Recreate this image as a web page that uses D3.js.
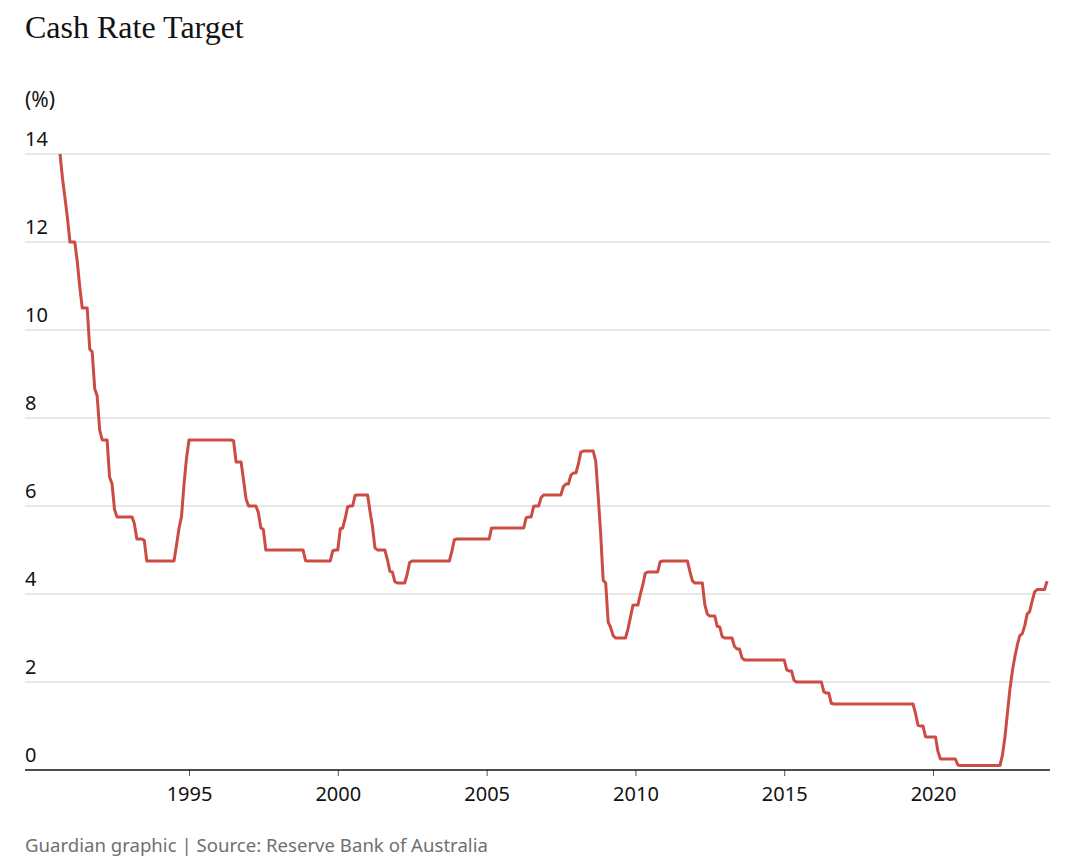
<!DOCTYPE html>
<html>
<head>
<meta charset="utf-8">
<script src="https://cdn.jsdelivr.net/npm/d3@7"></script>
<style>
  html, body { margin: 0; padding: 0; background: #ffffff; }
  svg { display: block; }
</style>
</head>
<body>
<svg id="chart" width="1080" height="865"></svg>
<script>
// ---- Data: RBA cash rate target decisions (effective dates) ----
const changeDates = [
  "1990-08-02","1990-10-15","1990-12-18","1991-04-04","1991-05-16","1991-09-03","1991-11-06",
  "1992-01-08","1992-05-06","1992-07-08","1993-03-23","1993-07-30","1994-08-17","1994-10-24",
  "1994-12-14","1996-07-31","1996-11-06","1996-12-11","1997-05-23","1997-07-30","1998-12-02",
  "1999-11-03","2000-02-02","2000-04-05","2000-05-03","2000-08-02","2001-02-07","2001-03-07",
  "2001-04-04","2001-09-05","2001-10-03","2001-12-05","2002-05-08","2002-06-05","2003-11-05",
  "2003-12-03","2005-03-02","2006-05-03","2006-08-02","2006-11-08","2007-08-08","2007-11-07",
  "2008-02-06","2008-03-05","2008-09-03","2008-10-08","2008-11-05","2008-12-03","2009-02-04",
  "2009-04-08","2009-10-07","2009-11-04","2009-12-02","2010-03-03","2010-04-07","2010-05-05",
  "2010-11-03","2011-11-02","2011-12-07","2012-05-02","2012-06-06","2012-10-03","2012-12-05",
  "2013-05-08","2013-08-07","2015-02-04","2015-05-06","2016-05-04","2016-08-03","2019-06-05",
  "2019-07-03","2019-10-02","2020-03-04","2020-03-20","2020-11-04","2022-05-04","2022-06-08",
  "2022-07-06","2022-08-03","2022-09-07","2022-10-05","2022-11-02","2022-12-07","2023-02-08",
  "2023-03-08","2023-05-03","2023-06-07","2023-11-08"
];
const cashRates = [
  14.00, 13.00, 12.00, 11.50, 10.50, 9.50, 8.50,
  7.50, 6.50, 5.75, 5.25, 4.75, 5.50, 6.50,
  7.50, 7.00, 6.50, 6.00, 5.50, 5.00, 4.75,
  5.00, 5.50, 5.75, 6.00, 6.25, 5.75, 5.50,
  5.00, 4.75, 4.50, 4.25, 4.50, 4.75, 5.00,
  5.25, 5.50, 5.75, 6.00, 6.25, 6.50, 6.75,
  7.00, 7.25, 7.00, 6.00, 5.25, 4.25, 3.25,
  3.00, 3.25, 3.50, 3.75, 4.00, 4.25, 4.50,
  4.75, 4.50, 4.25, 3.75, 3.50, 3.25, 3.00,
  2.75, 2.50, 2.25, 2.00, 1.75, 1.50, 1.25,
  1.00, 0.75, 0.50, 0.25, 0.10, 0.35, 0.85,
  1.35, 1.85, 2.35, 2.60, 2.85, 3.10, 3.35,
  3.60, 3.85, 4.10, 4.35
];
// Monthly series window (monthly averages of the target)
const seriesStart = "1990-09-01";
const seriesEnd = "2023-11-01";

const xTickYears = [1995, 2000, 2005, 2010, 2015, 2020];
const yTickValues = [0, 2, 4, 6, 8, 10, 12, 14];

const titleText = "Cash Rate Target";
const unitText = "(%)";
const footerText = "Guardian graphic | Source: Reserve Bank of Australia";

// ---- Build monthly table from decisions ----
const parse = d3.utcParse("%Y-%m-%d");
const events = changeDates.map((d, i) => ({ date: parse(d), rate: cashRates[i] }));
function rateOn(day) {
  let r = events[0].rate;
  for (const e of events) { if (e.date <= day) r = e.rate; else break; }
  return r;
}
const months = d3.utcMonth.range(parse(seriesStart), d3.utcMonth.offset(parse(seriesEnd), 1));
const monthly = months.map(m => {
  const days = d3.utcDay.range(m, d3.utcMonth.offset(m, 1));
  return { date: m, value: d3.mean(days, rateOn) };
});

// ---- Layout ----
const svg = d3.select("#chart");
const plotLeft = 25, plotRight = 1050, plotTop = 154, plotBottom = 770;

const x = d3.scaleUtc()
  .domain([new Date(Date.UTC(1995, 0, 1)), new Date(Date.UTC(2020, 0, 1))])
  .range([189, 933]);
x.domain([x.invert(plotLeft), x.invert(plotRight)]).range([plotLeft, plotRight]);

const y = d3.scaleLinear().domain([0, 14]).range([plotBottom, plotTop]);

const sans = "'Noto Sans', 'Open Sans', sans-serif";

// Title
svg.append("text")
  .attr("x", 25).attr("y", 38)
  .attr("font-family", "'Liberation Serif', 'DejaVu Serif', serif")
  .attr("font-size", 32)
  .attr("fill", "#121212")
  .text(titleText);

// Unit label
svg.append("text")
  .attr("x", 25).attr("y", 107)
  .attr("font-family", sans)
  .attr("font-size", 21)
  .attr("fill", "#121212")
  .text(unitText);

// Gridlines
svg.append("g").selectAll("line")
  .data(yTickValues.filter(v => v > 0))
  .join("line")
  .attr("x1", plotLeft).attr("x2", plotRight)
  .attr("y1", d => y(d)).attr("y2", d => y(d))
  .attr("stroke", "#cfcfcf").attr("stroke-width", 1);

// Y labels
svg.append("g").selectAll("text")
  .data(yTickValues)
  .join("text")
  .attr("x", 25).attr("y", d => y(d) - 8)
  .attr("font-family", sans)
  .attr("font-size", 20)
  .attr("fill", "#121212")
  .text(d => d);

// X axis
const xAxis = d3.axisBottom(x)
  .tickValues(xTickYears.map(yr => new Date(Date.UTC(yr, 0, 1))))
  .tickFormat(d3.utcFormat("%Y"))
  .tickSize(6)
  .tickPadding(11);
const gx = svg.append("g").attr("transform", `translate(0,${plotBottom})`).call(xAxis);
gx.select(".domain").remove();
gx.selectAll(".tick line").attr("stroke", "#555");
gx.selectAll(".tick text")
  .attr("font-family", sans)
  .attr("font-size", 20)
  .attr("fill", "#121212");

// Baseline
svg.append("line")
  .attr("x1", plotLeft).attr("x2", plotRight)
  .attr("y1", y(0)).attr("y2", y(0))
  .attr("stroke", "#121212").attr("stroke-width", 1.5);

// Line
const line = d3.line()
  .x(d => x(d.date))
  .y(d => y(d.value))
  .curve(d3.curveLinear);
svg.append("path")
  .datum(monthly)
  .attr("d", line)
  .attr("fill", "none")
  .attr("stroke", "#cc4c44")
  .attr("stroke-width", 3)
  .attr("stroke-linejoin", "round")
  .attr("stroke-linecap", "butt");

// Footer
svg.append("text")
  .attr("x", 25).attr("y", 852)
  .attr("font-family", sans)
  .attr("font-size", 18.6)
  .attr("fill", "#707070")
  .text(footerText);
</script>
</body>
</html>
